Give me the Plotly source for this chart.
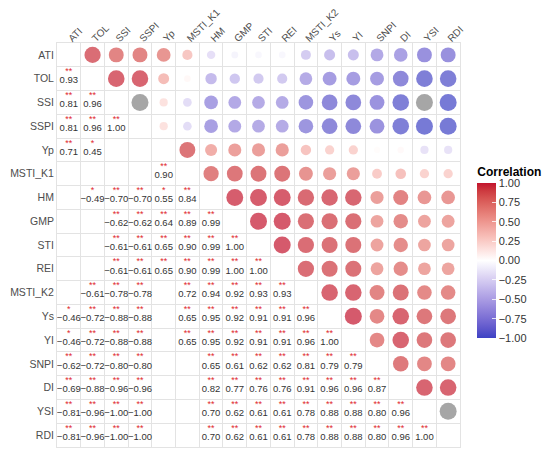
import plotly.graph_objects as go

variables = ["ATI", "TOL", "SSI", "SSPI", "Yp", "MSTI_K1", "HM", "GMP", "STI", "REI",
             "MSTI_K2", "Ys", "YI", "SNPI", "DI", "YSI", "RDI"]

# lower-triangle correlation rows (row i holds correlations with variables 0..i-1)
corr_rows = [
    [],
    [0.93],
    [0.81, 0.96],
    [0.81, 0.96, 1.00],
    [0.71, 0.45, 0.20, 0.20],
    [0.38, 0.05, -0.24, -0.24, 0.90],
    [-0.22, -0.49, -0.70, -0.70, 0.55, 0.84],
    [-0.08, -0.40, -0.62, -0.62, 0.64, 0.89, 0.99],
    [-0.06, -0.38, -0.61, -0.61, 0.65, 0.90, 0.99, 1.00],
    [-0.06, -0.38, -0.61, -0.61, 0.65, 0.90, 0.99, 1.00, 1.00],
    [-0.36, -0.61, -0.78, -0.78, 0.40, 0.72, 0.94, 0.92, 0.93, 0.93],
    [-0.46, -0.72, -0.88, -0.88, 0.30, 0.65, 0.95, 0.92, 0.91, 0.91, 0.96],
    [-0.46, -0.72, -0.88, -0.88, 0.30, 0.65, 0.95, 0.92, 0.91, 0.91, 0.96, 1.00],
    [-0.62, -0.72, -0.80, -0.80, 0.02, 0.35, 0.65, 0.61, 0.62, 0.62, 0.81, 0.79, 0.79],
    [-0.69, -0.88, -0.96, -0.96, 0.04, 0.42, 0.82, 0.77, 0.76, 0.76, 0.91, 0.96, 0.96, 0.87],
    [-0.81, -0.96, -1.00, -1.00, -0.20, 0.30, 0.70, 0.62, 0.61, 0.61, 0.78, 0.88, 0.88, 0.80, 0.96],
    [-0.81, -0.96, -1.00, -1.00, -0.20, 0.30, 0.70, 0.62, 0.61, 0.61, 0.78, 0.88, 0.88, 0.80, 0.96, 1.00],
]

S2 = "**"
signif_rows = [
    [],
    [S2],
    [S2, S2],
    [S2, S2, S2],
    [S2, "*", "", ""],
    ["", "", "", "", S2],
    ["", "*", S2, S2, "*", S2],
    ["", "", S2, S2, S2, S2, S2],
    ["", "", S2, S2, S2, S2, S2, S2],
    ["", "", S2, S2, S2, S2, S2, S2, S2],
    ["", S2, S2, S2, "", S2, S2, S2, S2, S2],
    ["*", S2, S2, S2, "", S2, S2, S2, S2, S2, S2],
    ["*", S2, S2, S2, "", S2, S2, S2, S2, S2, S2, S2],
    [S2, S2, S2, S2, "", "", S2, S2, S2, S2, S2, S2, S2],
    [S2, S2, S2, S2, "", "", S2, S2, S2, S2, S2, S2, S2, S2],
    [S2, S2, S2, S2, "", "", S2, S2, S2, S2, S2, S2, S2, S2, S2],
    [S2, S2, S2, S2, "", "", S2, S2, S2, S2, S2, S2, S2, S2, S2, S2],
]

# pairs whose value fell just outside [-1, 1] (drawn grey)
out_of_range = [("SSPI", "SSI"), ("YSI", "SSI"), ("RDI", "YSI")]

low_color = (61, 66, 196)
mid_color = (255, 255, 255)
high_color = (195, 20, 45)
legend_ticks = [1.0, 0.75, 0.5, 0.25, 0.0, -0.25, -0.5, -0.75, -1.0]


# --- Lab interpolation (like ggplot's gradient2) ---
def _lin(c):
    c = c / 255.0
    return c / 12.92 if c <= 0.04045 else ((c + 0.055) / 1.055) ** 2.4


def _delin(c):
    c = 12.92 * c if c <= 0.0031308 else 1.055 * c ** (1 / 2.4) - 0.055
    return max(0, min(255, round(c * 255)))


def rgb2lab(rgb):
    r, g, b = (_lin(v) for v in rgb)
    x = (0.4124 * r + 0.3576 * g + 0.1805 * b) / 0.95047
    y = (0.2126 * r + 0.7152 * g + 0.0722 * b)
    z = (0.0193 * r + 0.1192 * g + 0.9505 * b) / 1.08883
    f = lambda t: t ** (1 / 3) if t > 0.008856 else 7.787 * t + 16 / 116
    fx, fy, fz = f(x), f(y), f(z)
    return (116 * fy - 16, 500 * (fx - fy), 200 * (fy - fz))


def lab2rgb(lab):
    L, a, b = lab
    fy = (L + 16) / 116
    fx = fy + a / 500
    fz = fy - b / 200
    finv = lambda t: t ** 3 if t ** 3 > 0.008856 else (t - 16 / 116) / 7.787
    x, y, z = finv(fx) * 0.95047, finv(fy), finv(fz) * 1.08883
    r = 3.2406 * x - 1.5372 * y - 0.4986 * z
    g = -0.9689 * x + 1.8758 * y + 0.0415 * z
    bb = 0.0557 * x - 0.2040 * y + 1.0570 * z
    return tuple(_delin(max(0.0, v)) for v in (r, g, bb))


def build_scale(nsteps=20):
    stops = []
    lab_lo, lab_mid, lab_hi = rgb2lab(low_color), rgb2lab(mid_color), rgb2lab(high_color)
    for k in range(nsteps + 1):
        t = k / nsteps
        if t <= 0.5:
            u = t / 0.5
            lab = tuple(lab_lo[m] + (lab_mid[m] - lab_lo[m]) * u for m in range(3))
        else:
            u = (t - 0.5) / 0.5
            lab = tuple(lab_mid[m] + (lab_hi[m] - lab_mid[m]) * u for m in range(3))
        r, g, b = lab2rgb(lab)
        stops.append([t, f"rgb({r},{g},{b})"])
    return stops


colorscale = build_scale()


def fmt(v):
    s = f"{abs(v):.2f}"
    return ("\u2212" + s) if v < 0 else s


cx, cy, cv, csize = [], [], [], []
gx, gy, gsize = [], [], []
tx, ty, tt = [], [], []
sx, sy, st = [], [], []
oor = set(out_of_range)
for i, row in enumerate(corr_rows):
    for j, r in enumerate(row):
        d = 6.0 + 11.0 * abs(r)
        # upper triangle: circle at column i, row j
        if (variables[i], variables[j]) in oor:
            gx.append(i); gy.append(j); gsize.append(d)
        else:
            cx.append(i); cy.append(j); cv.append(r); csize.append(d)
        # lower triangle: significant values as text
        sig = signif_rows[i][j]
        if sig:
            tx.append(j); ty.append(i + 0.1); tt.append(fmt(r))
            sx.append(j); sy.append(i - 0.28); st.append(sig)

fig = go.Figure()
fig.add_trace(go.Scatter(
    x=cx, y=cy, mode="markers", hoverinfo="skip", showlegend=False,
    marker=dict(size=csize, color=cv, colorscale=colorscale, cmin=-1, cmax=1,
                line=dict(width=0),
                colorbar=dict(
                    title=dict(text="<b>Correlation</b>", side="top",
                               font=dict(size=12, color="#000000", family="Liberation Sans, Arial")),
                    x=1.043, xanchor="left", xpad=0, ypad=0,
                    y=0.485, yanchor="middle", len=0.43, thickness=19,
                    outlinewidth=0, ticks="inside", ticklen=4, tickcolor="rgba(255,255,255,0.8)",
                    tickvals=legend_ticks, ticktext=[fmt(v) for v in legend_ticks],
                    tickfont=dict(size=11, color="#333333", family="Liberation Sans, Arial"),
                )),
))
fig.add_trace(go.Scatter(
    x=gx, y=gy, mode="markers", hoverinfo="skip", showlegend=False,
    marker=dict(size=gsize, color="#808080", line=dict(width=0)),
))
fig.add_trace(go.Scatter(
    x=tx, y=ty, mode="text", text=tt, hoverinfo="skip", showlegend=False,
    textfont=dict(size=9.5, color="#333333", family="Liberation Sans, Arial"),
))
fig.add_trace(go.Scatter(
    x=sx, y=sy, mode="text", text=st, hoverinfo="skip", showlegend=False,
    textfont=dict(size=9, color="#E0282D", family="Liberation Sans, Arial"),
))

n = len(variables)
axis_common = dict(
    range=[-0.5, n - 0.5], tickmode="array", tickvals=list(range(n)), ticktext=variables,
    showgrid=False, zeroline=False, ticks="", showline=True, mirror=True,
    linecolor="#E3E3E3", linewidth=1, automargin=False,
    minor=dict(tick0=0.5, dtick=1, showgrid=True, gridcolor="#E3E3E3", gridwidth=1, ticks=""),
    tickfont=dict(size=10.5, color="#4D4D4D", family="Liberation Sans, Arial"),
)
fig.update_xaxes(**axis_common, side="top", tickangle=-45)
fig.update_xaxes(tickfont=dict(size=10), ticklabelstandoff=-6)
fig.update_yaxes(**axis_common, autorange=False)
fig.update_yaxes(range=[n - 0.5, -0.5])

# the page body adds an 8px offset, so the figure is sized to fit the window
fig.update_layout(
    width=542, height=449,
    margin=dict(l=49, r=90, t=35, b=10, autoexpand=False),
    plot_bgcolor="#FFFFFF", paper_bgcolor="#FFFFFF",
    font=dict(family="Liberation Sans, Arial"),
)

fig.write_html("out.html")
